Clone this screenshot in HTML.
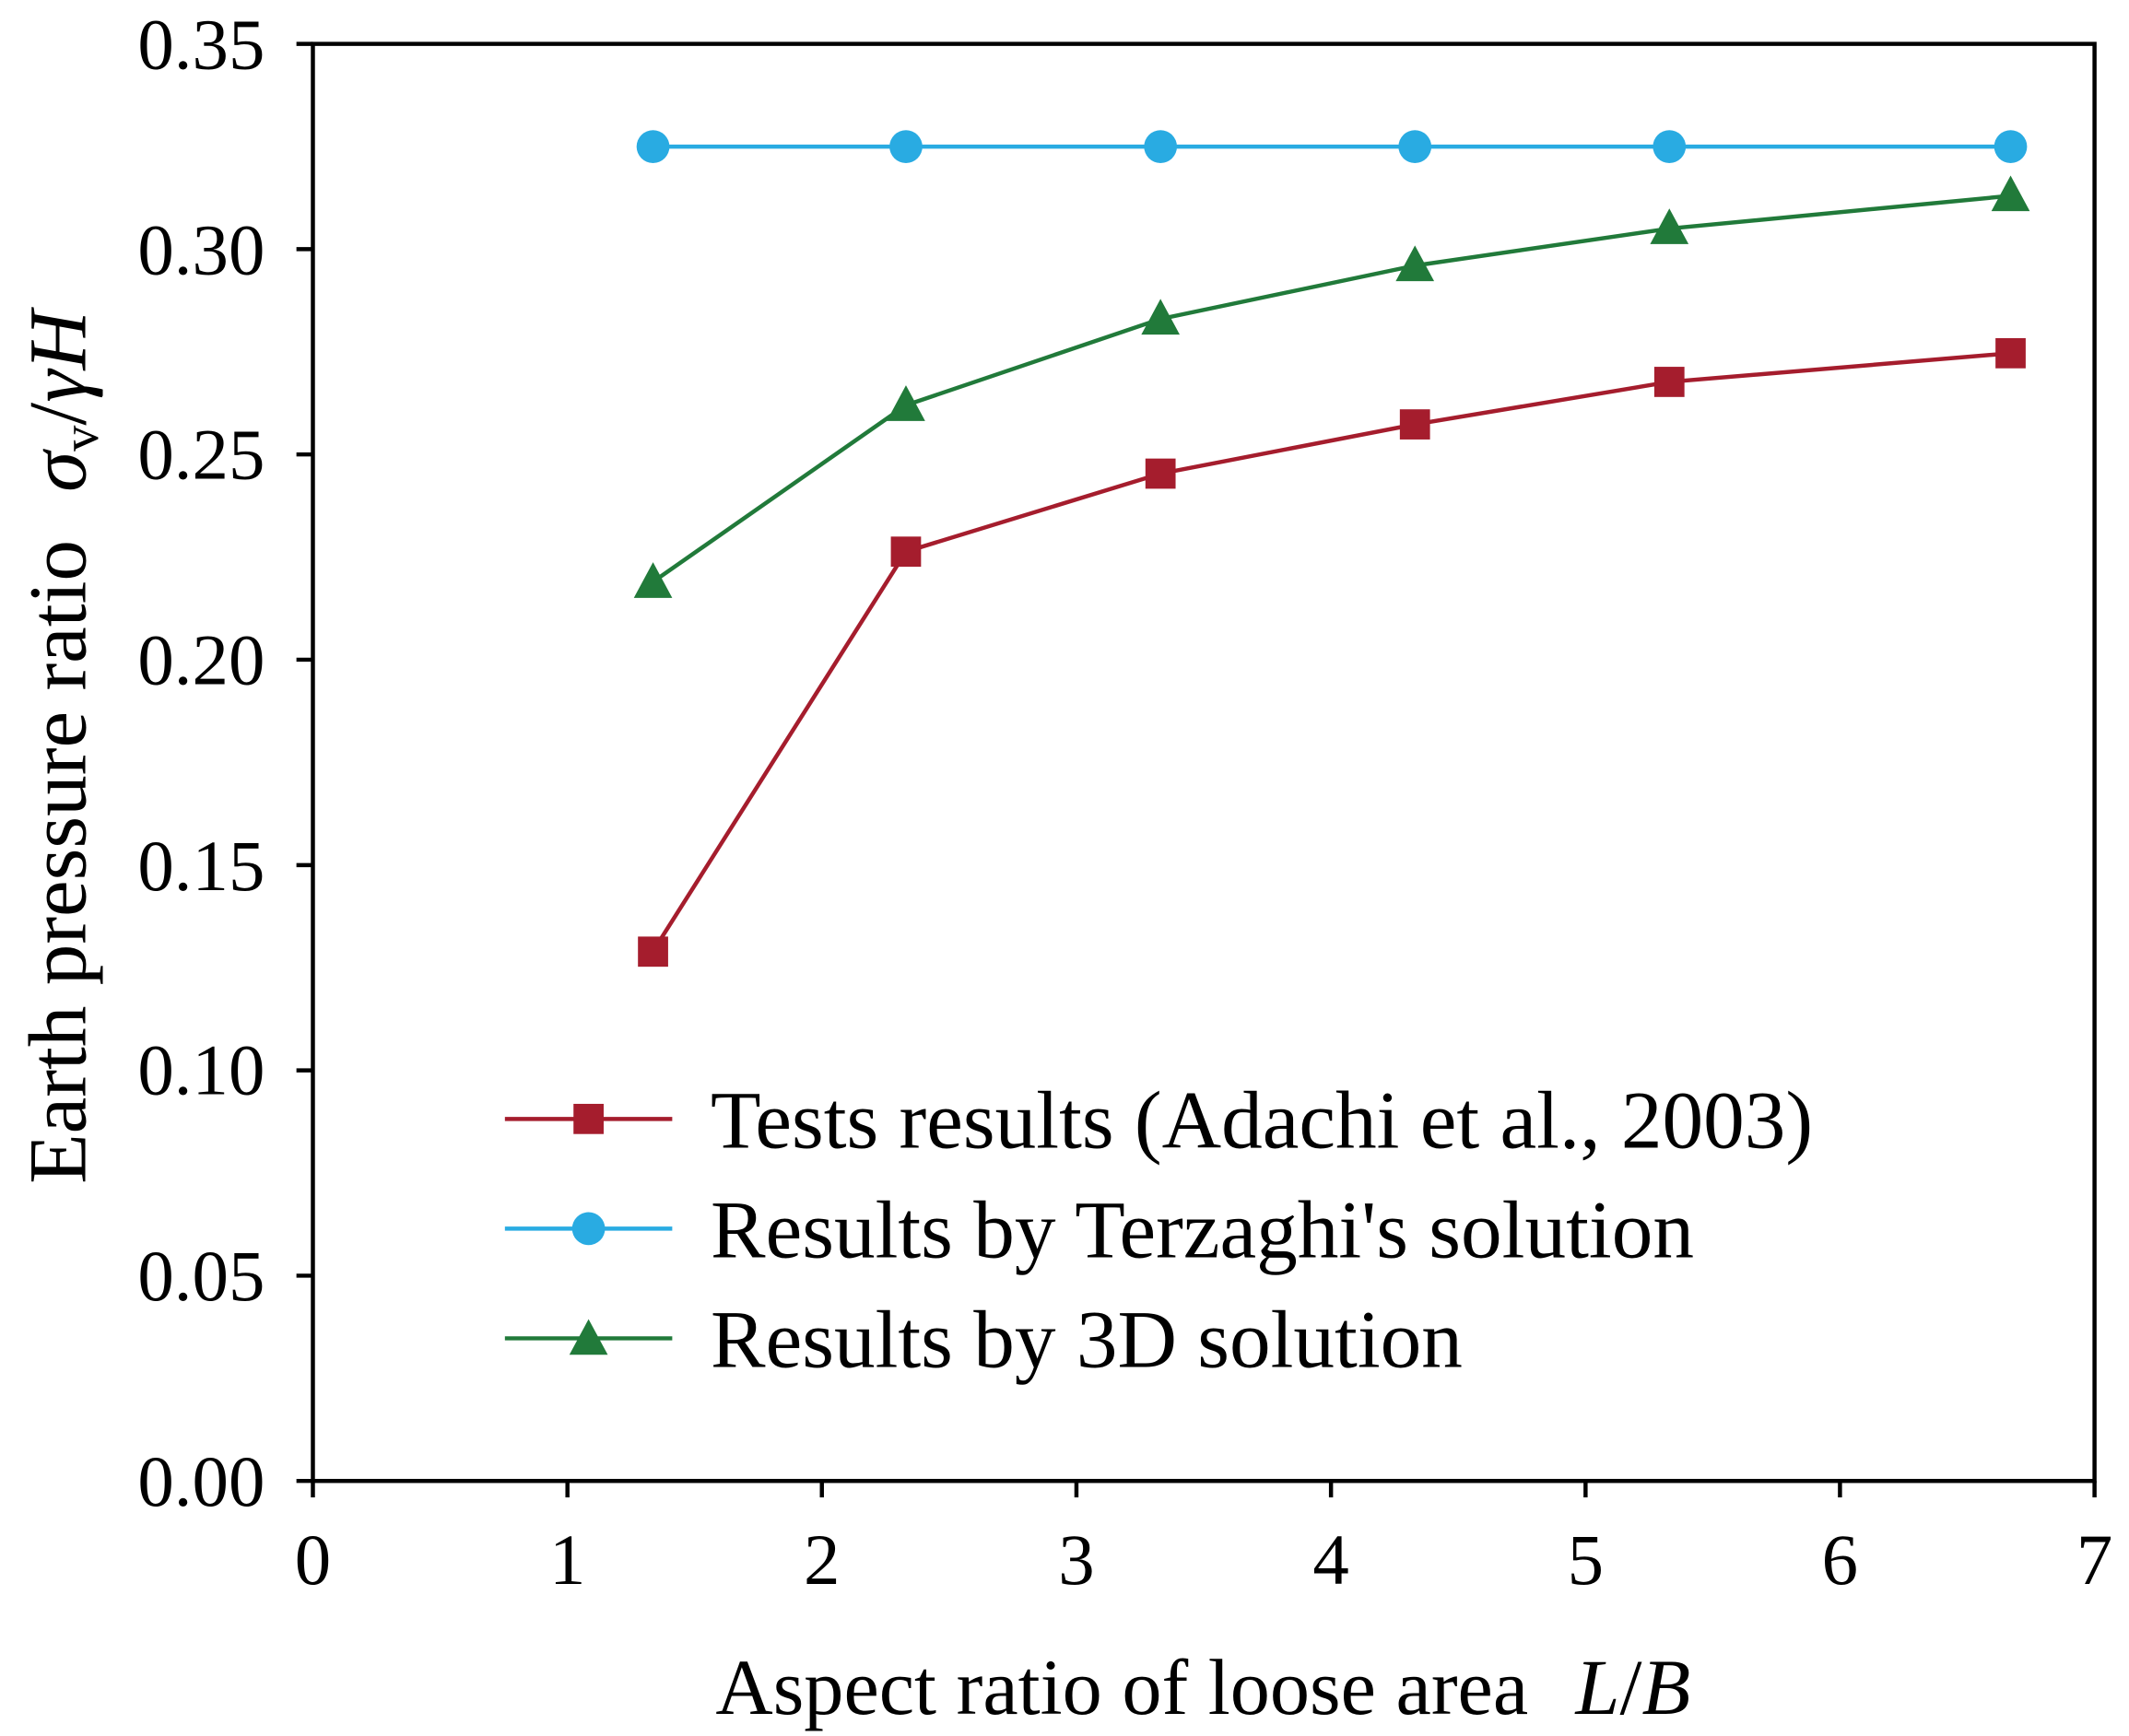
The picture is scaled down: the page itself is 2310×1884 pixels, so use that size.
<!DOCTYPE html>
<html><head><style>html,body{margin:0;padding:0;background:#fff}svg{display:block}</style></head>
<body>
<svg width="2310" height="1884" viewBox="0 0 1552 1266" xmlns="http://www.w3.org/2000/svg" font-family="Liberation Serif, serif">
<rect x="0" y="0" width="1552" height="1266" fill="#fff"/>
<rect x="228" y="32" width="1299" height="1048" fill="none" stroke="#000" stroke-width="3"/>
<g stroke="#000" stroke-width="3">
<line x1="228" y1="1080" x2="228" y2="1092"/><line x1="413.6" y1="1080" x2="413.6" y2="1092"/><line x1="599.1" y1="1080" x2="599.1" y2="1092"/><line x1="784.7" y1="1080" x2="784.7" y2="1092"/><line x1="970.3" y1="1080" x2="970.3" y2="1092"/><line x1="1155.9" y1="1080" x2="1155.9" y2="1092"/><line x1="1341.4" y1="1080" x2="1341.4" y2="1092"/><line x1="1527" y1="1080" x2="1527" y2="1092"/>
<line x1="216" y1="1080" x2="228" y2="1080"/><line x1="216" y1="930.3" x2="228" y2="930.3"/><line x1="216" y1="780.6" x2="228" y2="780.6"/><line x1="216" y1="630.9" x2="228" y2="630.9"/><line x1="216" y1="481.1" x2="228" y2="481.1"/><line x1="216" y1="331.4" x2="228" y2="331.4"/><line x1="216" y1="181.7" x2="228" y2="181.7"/><line x1="216" y1="32" x2="228" y2="32"/>
</g>
<g font-size="53" text-anchor="middle">
<text x="228" y="1155">0</text><text x="413.6" y="1155">1</text><text x="599.1" y="1155">2</text><text x="784.7" y="1155">3</text><text x="970.3" y="1155">4</text><text x="1155.9" y="1155">5</text><text x="1341.4" y="1155">6</text><text x="1527" y="1155">7</text>
</g>
<g font-size="53" text-anchor="end">
<text x="193" y="1098">0.00</text><text x="193" y="948">0.05</text><text x="193" y="798">0.10</text><text x="193" y="649">0.15</text><text x="193" y="499">0.20</text><text x="193" y="349">0.25</text><text x="193" y="200">0.30</text><text x="193" y="50">0.35</text>
</g>
<text x="877" y="1250" font-size="58" text-anchor="middle">Aspect ratio of loose area <tspan font-style="italic" dx="20">L</tspan>/<tspan font-style="italic">B</tspan></text>
<text transform="translate(62,545) rotate(-90)" font-size="60" text-anchor="middle">Earth pressure ratio <tspan font-style="italic" dx="20">σ</tspan><tspan font-size="38" dy="9">v</tspan><tspan dy="-9">/</tspan><tspan font-style="italic">γH</tspan></text>
<polyline fill="none" stroke="#29abe2" stroke-width="3" points="474.8,106.9 660.4,106.9 846,106.9 1031.5,106.9 1217,106.9 1465.8,106.9"/>
<g fill="#29abe2"><circle cx="476" cy="106.9" r="12"/><circle cx="660.4" cy="106.9" r="12"/><circle cx="846" cy="106.9" r="12"/><circle cx="1031.5" cy="106.9" r="12"/><circle cx="1217" cy="106.9" r="12"/><circle cx="1465.8" cy="106.9" r="12"/></g>
<polyline fill="none" stroke="#217a3a" stroke-width="3" points="476,424.3 660.4,295.5 846,232.6 1031.5,193.7 1217,166.7 1465.8,142.8"/>
<g fill="#217a3a">
<polygon points="476,410 490,436 462,436"/><polygon points="660.4,281 674.4,307 646.4,307"/><polygon points="846,218 860,244 832,244"/><polygon points="1031.5,179 1045.5,205 1017.5,205"/><polygon points="1217,152 1231,178 1203,178"/><polygon points="1465.8,128 1479.8,154 1451.8,154"/>
</g>
<polyline fill="none" stroke="#a51d2d" stroke-width="3" points="476,693.7 660.4,402.3 846,345.4 1031.5,309.5 1217,278.5 1465.8,257.6"/>
<g fill="#a51d2d">
<rect x="465" y="683" width="22" height="22"/><rect x="649.4" y="391.3" width="22" height="22"/><rect x="835" y="334.4" width="22" height="22"/><rect x="1020.5" y="298.5" width="22" height="22"/><rect x="1206" y="267.5" width="22" height="22"/><rect x="1454.8" y="246.6" width="22" height="22"/>
</g>
<line x1="368" y1="816" x2="490" y2="816" stroke="#a51d2d" stroke-width="3"/><rect x="418" y="805" width="22" height="22" fill="#a51d2d"/>
<line x1="368" y1="896" x2="490" y2="896" stroke="#29abe2" stroke-width="3"/><circle cx="429" cy="896" r="12" fill="#29abe2"/>
<line x1="368" y1="976" x2="490" y2="976" stroke="#217a3a" stroke-width="3"/><polygon points="429,962 443,988 415,988" fill="#217a3a"/>
<g font-size="60">
<text x="518" y="837">Tests results  (Adachi et al., 2003)</text>
<text x="518" y="917">Results by Terzaghi's solution</text>
<text x="518" y="997">Results by 3D solution</text>
</g>
</svg>
</body></html>
